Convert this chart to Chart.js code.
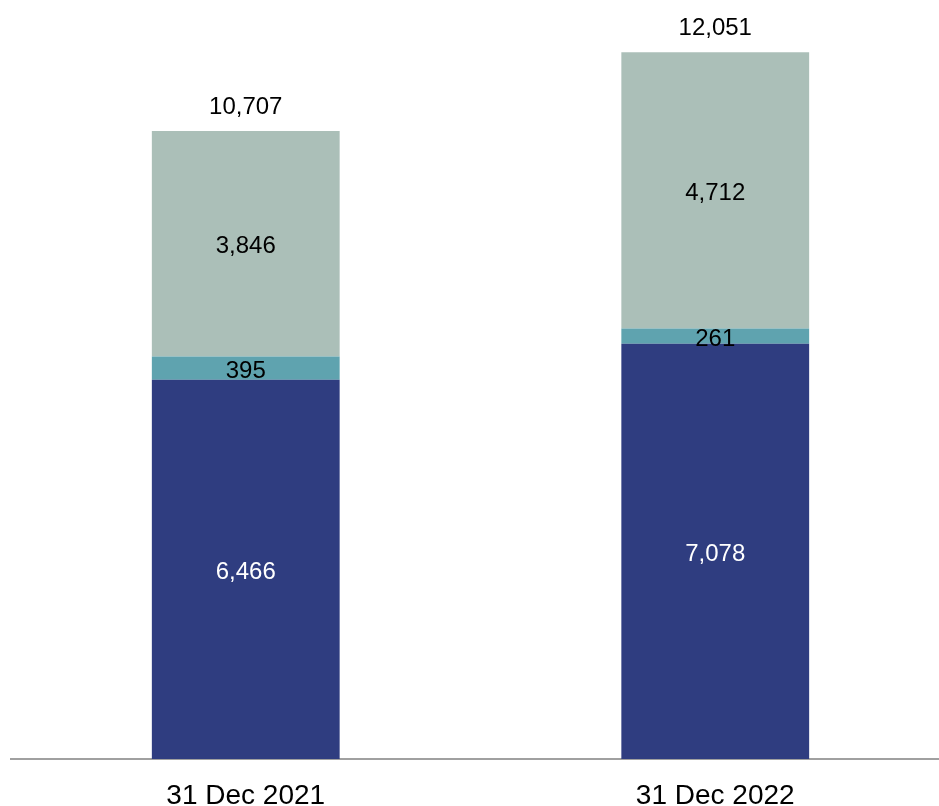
<!DOCTYPE html>
<html>
<head>
<meta charset="utf-8">
<script src="https://cdn.jsdelivr.net/npm/chart.js@4"></script>
<style>
  html, body { margin: 0; padding: 0; background: #fff; overflow: hidden; }
  #wrap { width: 939px; height: 806px; overflow: hidden; }
</style>
</head>
<body>
<div id="wrap"><canvas id="chart" width="950" height="806"></canvas></div>
<script>
const CATEGORIES = ['31 Dec 2021', '31 Dec 2022'];
const BOTTOM = [6466, 7078];
const MIDDLE = [395, 261];
const TOP = [3846, 4712];
const TOTALS = [10707, 12051];
const Y_MAX = 12940;

const FONT = '"Liberation Sans", Arial, sans-serif';
const fmt = (n) => n.toLocaleString('en-US');

const labelPlugin = {
  id: 'segLabels',
  afterDatasetsDraw(chart) {
    const ctx = chart.ctx;
    ctx.save();
    ctx.font = '24px ' + FONT;
    ctx.textAlign = 'center';
    chart.data.datasets.forEach((ds, i) => {
      const meta = chart.getDatasetMeta(i);
      meta.data.forEach((bar, j) => {
        const mid = (bar.y + bar.base) / 2;
        ctx.fillStyle = ds.labelColor;
        ctx.textBaseline = 'middle';
        ctx.fillText(fmt(ds.data[j]), bar.x, mid + 3);
      });
    });
    const topMeta = chart.getDatasetMeta(chart.data.datasets.length - 1);
    topMeta.data.forEach((bar, j) => {
      ctx.fillStyle = '#000';
      ctx.textBaseline = 'alphabetic';
      ctx.fillText(fmt(TOTALS[j]), bar.x, bar.y - 17);
    });
    ctx.restore();
  },
};

new Chart(document.getElementById('chart'), {
  type: 'bar',
  data: {
    labels: CATEGORIES,
    datasets: [
      { label: 'a', data: BOTTOM, backgroundColor: '#2F3D80', labelColor: '#fff' },
      { label: 'b', data: MIDDLE, backgroundColor: '#5FA3AF', labelColor: '#000' },
      { label: 'c', data: TOP, backgroundColor: '#ABBFB8', labelColor: '#000' },
    ],
  },
  options: {
    responsive: false,
    animation: false,
    layout: { padding: { left: 11, right: 0, top: 0, bottom: 0 } },
    datasets: { bar: { categoryPercentage: 1, barPercentage: 0.4 } },
    plugins: { legend: { display: false }, tooltip: { enabled: false } },
    scales: {
      x: {
        stacked: true,
        grid: { display: false, drawTicks: false },
        border: { display: true, color: '#A0A0A0', width: 2 },
        ticks: { color: '#000', font: { family: FONT, size: 28 }, padding: 20 },
        afterFit: (scale) => { scale.height = 47; },
      },
      y: {
        stacked: true,
        display: false,
        min: 0,
        max: Y_MAX,
      },
    },
  },
  plugins: [labelPlugin],
});
</script>
</body>
</html>
